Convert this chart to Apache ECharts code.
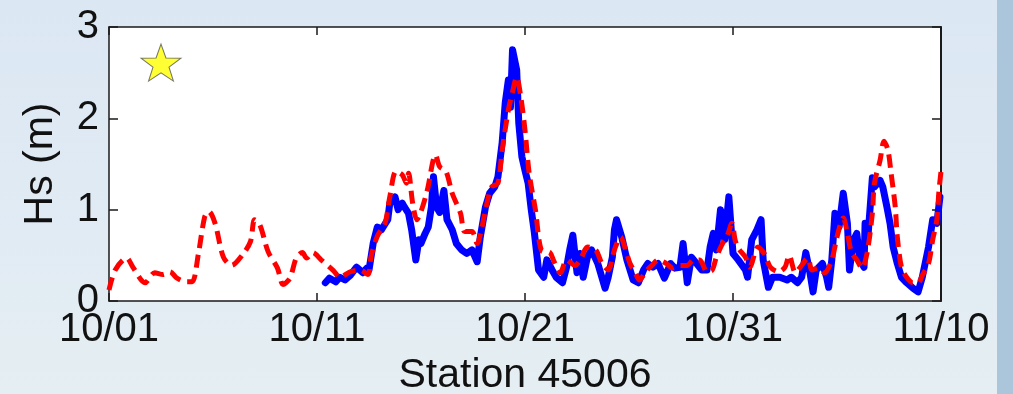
<!DOCTYPE html>
<html>
<head>
<meta charset="utf-8">
<script src="https://cdn.jsdelivr.net/npm/echarts@6/dist/echarts.min.js"></script>
<style>
html,body{margin:0;padding:0;}
#wrap{width:1013px;height:394px;position:relative;
  background:
    linear-gradient(to right, rgba(0,0,0,0) 997px, #abc6da 997px),
    linear-gradient(to bottom, #dbe7f3 0%, #e1ebf4 60%, #e5eef2 100%);}
#chart{width:1013px;height:394px;}
</style>
</head>
<body>
<div id="wrap"><div id="chart"></div></div>
<script>
// tick labels for x (every 10 days from 10/01)
const xTickLabels = ['10/01', '10/11', '10/21', '10/31', '11/10'];
const xAxisTitle = 'Station 45006';
const yAxisTitle = 'Hs (m)';

// model (red dashed): days since 10/01 00:00, Hs (m)
const modelDays = [0,0.3,0.85,1.15,1.73,2.2,2.6,2.93,3.27,3.75,4.0,4.3,4.6,4.8,5.1,5.5,5.9,6.4,6.8,7.0,7.26,7.65,8.1,8.37,8.7,9.0,9.3,9.5,9.8,10.2,10.8,11.1,11.6,12.07,12.45,12.6,12.9,13.27,13.5,13.8,14.1,14.3,14.4,14.6,14.8,15.0,15.3,15.7,15.9,16.2,16.5,16.9,17.1,17.45,17.7,17.9,18.2,18.4,18.7,18.9,19.2,19.4,19.6,19.8,20.0,20.2,20.5,20.8,21.2,21.4,21.7,22.0,22.4,22.7,23.0,23.4,23.7,24.0,24.3,24.6,24.8,25.05,25.3,25.5,25.8,26.1,26.4,26.8,27.1,27.45,27.8,28.1,28.4,28.75,29.0,29.2,29.5,29.7,29.95,30.1,30.25,30.6,30.8,31.2,31.5,31.8,32.2,32.5,32.7,33.0,33.2,33.6,33.8,34.1,34.4,34.75,35.0,35.3,35.5,35.7,35.95,36.2,36.45,36.7,36.8,37.07,37.26,37.45,37.6,37.8,37.9,38.1,38.35,38.65,38.9,39.1,39.4,39.6,39.8,39.9,40.0];
const modelHs = [0.12,0.34,0.47,0.37,0.2,0.31,0.29,0.32,0.25,0.21,0.21,0.52,0.92,0.98,0.85,0.48,0.39,0.5,0.65,0.89,0.83,0.54,0.36,0.18,0.25,0.47,0.53,0.47,0.53,0.45,0.33,0.26,0.32,0.34,0.29,0.49,0.71,0.85,1.14,1.42,1.38,1.29,1.4,1.07,0.89,0.98,1.21,1.6,1.47,1.42,1.18,0.96,0.76,0.76,0.63,0.78,1.1,1.25,1.29,1.65,2.09,2.29,2.45,2.23,1.87,1.4,1.0,0.55,0.53,0.43,0.31,0.45,0.39,0.47,0.59,0.56,0.41,0.34,0.56,0.7,0.59,0.41,0.31,0.23,0.32,0.39,0.45,0.41,0.36,0.39,0.39,0.45,0.45,0.32,0.34,0.48,0.63,0.7,0.85,0.67,0.58,0.48,0.37,0.59,0.52,0.37,0.32,0.37,0.5,0.31,0.36,0.47,0.34,0.36,0.31,0.45,0.7,0.91,0.74,0.53,0.45,0.36,0.53,0.96,1.29,1.54,1.75,1.65,1.4,1.03,0.7,0.37,0.26,0.2,0.2,0.28,0.41,0.67,0.89,1.2,1.42];

// buoy observations (blue solid)
const obsDays = [10.4,10.6,10.9,11.1,11.35,11.6,11.9,12.2,12.4,12.5,12.7,12.9,13.1,13.4,13.5,13.75,13.9,14.1,14.2,14.4,14.55,14.75,14.9,15.0,15.2,15.35,15.5,15.6,15.75,15.9,16.1,16.25,16.5,16.7,16.95,17.2,17.45,17.7,17.85,18.1,18.3,18.55,18.7,18.9,19.05,19.2,19.3,19.4,19.6,19.7,19.85,20.0,20.15,20.3,20.45,20.65,20.9,21.05,21.3,21.5,21.8,22.0,22.15,22.3,22.5,22.65,22.8,23.0,23.2,23.5,23.85,24.0,24.2,24.3,24.4,24.65,24.9,25.2,25.45,25.7,25.9,26.15,26.4,26.7,27.0,27.2,27.45,27.6,27.8,28.0,28.25,28.5,28.75,28.9,29.05,29.2,29.4,29.6,29.8,30.0,30.25,30.6,30.7,30.9,31.15,31.35,31.45,31.7,31.9,32.25,32.6,32.8,33.1,33.3,33.5,33.7,33.85,34.0,34.3,34.5,34.6,34.75,34.9,35.1,35.3,35.5,35.6,35.8,35.95,36.1,36.3,36.35,36.5,36.7,36.8,37.07,37.2,37.4,37.55,37.7,37.9,38.1,38.35,38.65,38.9,39.1,39.4,39.6,39.8,39.95];
const obsHs = [0.2,0.25,0.21,0.26,0.23,0.28,0.37,0.31,0.36,0.34,0.63,0.81,0.78,0.89,1.07,1.14,1.0,1.07,1.03,0.96,0.78,0.45,0.67,0.63,0.74,0.81,1.03,1.36,1.03,0.97,1.21,0.89,0.78,0.63,0.56,0.52,0.56,0.43,0.7,1.03,1.18,1.25,1.36,1.73,2.17,2.42,2.12,2.75,2.53,1.95,1.58,1.43,1.29,1.0,0.75,0.34,0.26,0.45,0.34,0.26,0.2,0.37,0.56,0.72,0.31,0.52,0.26,0.48,0.56,0.41,0.14,0.26,0.48,0.78,0.89,0.7,0.45,0.23,0.2,0.34,0.41,0.37,0.41,0.25,0.41,0.36,0.37,0.63,0.2,0.48,0.41,0.34,0.34,0.59,0.74,0.56,1.0,0.67,1.14,0.52,0.45,0.34,0.26,0.67,0.78,0.89,0.45,0.15,0.26,0.26,0.23,0.26,0.2,0.26,0.53,0.31,0.1,0.34,0.41,0.26,0.15,0.45,0.96,0.81,1.18,0.85,0.34,0.67,0.74,0.45,0.37,0.85,0.74,1.35,1.25,1.32,1.25,1.03,0.85,0.59,0.41,0.26,0.2,0.14,0.1,0.26,0.59,0.89,0.85,1.14];

// station marker (star)
const starDay = [2.5];
const starHs = [2.61];

const zip = (a, b) => a.map((v, i) => [v, b[i]]);
const FONT = 'Liberation Sans, Arial, sans-serif';
const axisLineStyle = { color: '#1a1a1a', width: 1.5 };

const chart = echarts.init(document.getElementById('chart'), null, { renderer: 'canvas' });
chart.setOption({
  backgroundColor: 'transparent',
  animation: false,
  grid: { left: 109, top: 27, width: 832, height: 274, show: true, backgroundColor: '#ffffff', borderWidth: 0,
          containLabel: false, outerBoundsMode: 'none' },
  xAxis: [
    { type: 'value', min: 0, max: 40, interval: 10, position: 'bottom',
      axisLine: { show: true, lineStyle: axisLineStyle, onZero: false },
      axisTick: { show: true, inside: true, length: 8, lineStyle: axisLineStyle },
      splitLine: { show: false },
      axisLabel: { formatter: v => xTickLabels[Math.round(v / 10)], fontSize: 40, color: '#111', margin: 9, fontFamily: FONT },
      name: xAxisTitle, nameLocation: 'middle', nameGap: 50,
      nameTextStyle: { fontSize: 41, color: '#111', fontFamily: FONT } },
    { type: 'value', min: 0, max: 40, interval: 10, position: 'top',
      axisLine: { show: true, lineStyle: axisLineStyle, onZero: false },
      axisTick: { show: true, inside: true, length: 8, lineStyle: axisLineStyle },
      splitLine: { show: false }, axisLabel: { show: false } }
  ],
  yAxis: [
    { type: 'value', min: 0, max: 3, interval: 1, position: 'left',
      axisLine: { show: true, lineStyle: axisLineStyle, onZero: false },
      axisTick: { show: true, inside: true, length: 9, lineStyle: axisLineStyle },
      splitLine: { show: false },
      axisLabel: { fontSize: 40, color: '#111', margin: 10, fontFamily: FONT },
      name: yAxisTitle, nameLocation: 'middle', nameGap: 48, nameRotate: 90,
      nameTextStyle: { fontSize: 41, color: '#111', fontFamily: FONT } },
    { type: 'value', min: 0, max: 3, interval: 1, position: 'right',
      axisLine: { show: true, lineStyle: { color: '#1a1a1a', width: 2 }, onZero: false },
      axisTick: { show: true, inside: true, length: 9, lineStyle: axisLineStyle },
      splitLine: { show: false }, axisLabel: { show: false } }
  ],
  series: [
    { type: 'line', name: 'obs', data: zip(obsDays, obsHs), showSymbol: false, symbol: 'none',
      lineStyle: { color: '#0000ff', width: 7, join: 'round', cap: 'round' }, z: 2 },
    { type: 'line', name: 'model', data: zip(modelDays, modelHs), showSymbol: false, symbol: 'none', smooth: 0.3,
      lineStyle: { color: '#ff0000', width: 5, type: [13, 7], cap: 'butt' }, z: 3 },
    { type: 'scatter', data: zip(starDay, starHs),
      symbol: 'path://M0,-20 L4.7,-6.5 L19,-6.2 L7.6,2.5 L11.8,16.2 L0,8 L-11.8,16.2 L-7.6,2.5 L-19,-6.2 L-4.7,-6.5 Z',
      symbolSize: [40, 37], itemStyle: { color: '#ffff00', borderColor: '#555', borderWidth: 1 }, z: 4 }
  ]
});
</script>
</body>
</html>
